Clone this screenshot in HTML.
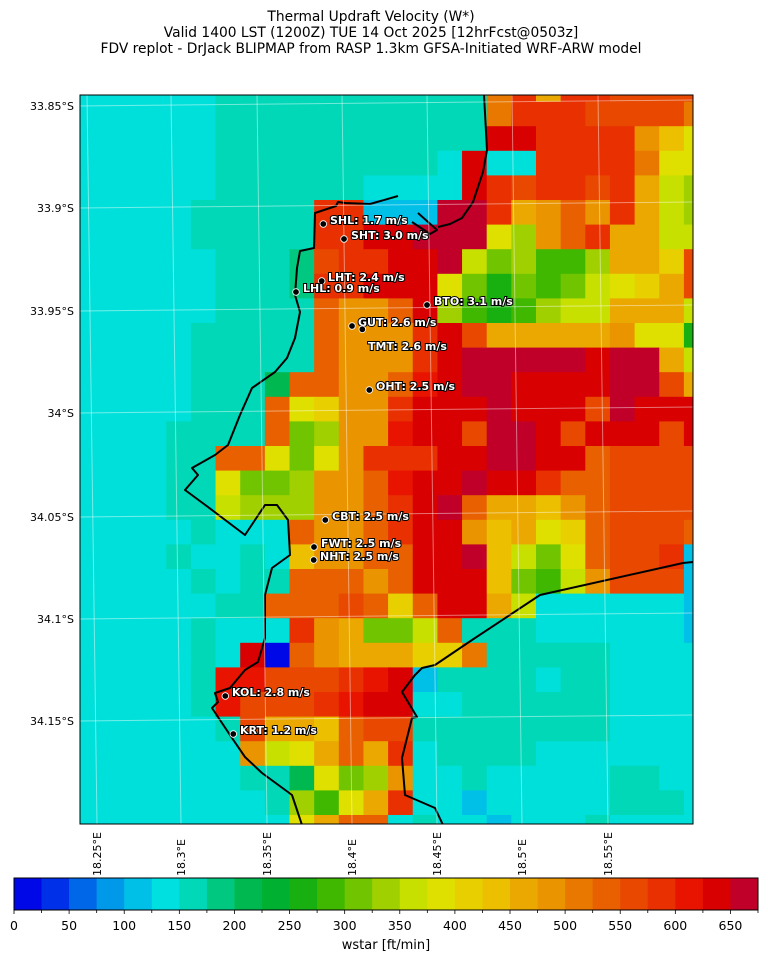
<!DOCTYPE html>
<html><head><meta charset="utf-8"><style>
body{margin:0;background:#fff;}
svg{display:block;font-family:"DejaVu Sans","Liberation Sans",sans-serif;}
</style></head><body>
<svg id="s" width="768" height="962" xmlns="http://www.w3.org/2000/svg">
<rect width="768" height="962" fill="#fff"/>
<text x="371" y="21" font-size="13.8" text-anchor="middle">Thermal Updraft Velocity (W*)</text>
<text x="371" y="37" font-size="13.8" text-anchor="middle">Valid 1400 LST (1200Z) TUE 14 Oct 2025 [12hrFcst@0503z]</text>
<text x="371" y="53" font-size="13.8" text-anchor="middle">FDV replot - DrJack BLIPMAP from RASP 1.3km GFSA-Initiated WRF-ARW model</text>
<defs><clipPath id="cp"><rect x="80" y="95" width="613" height="729"/></clipPath></defs>
<g id="grid" clip-path="url(#cp)"></g>
<g clip-path="url(#cp)" fill="none" stroke="#000" stroke-width="2" stroke-linejoin="round">
<polyline points="484,95 487,150 483,172 473,202 462,218 450,224 438,227"/>
<polyline points="418,213 437,230 430,234 412,222"/>
<polyline points="398,196 370,204 345,203 338,202 336,206 315,213 314,248 300,251 297,268 295,295 300,312 295,338 287,358 275,372 252,388 240,415 228,445 215,455 192,468 198,475 185,490 208,507 245,535 255,520 265,505 277,505 288,520 290,555 272,568 265,595 265,638 258,662 245,670 230,688 215,693 218,702 212,708 232,738 245,757 262,773 292,795 302,825"/>
<polyline points="443,825 435,808 405,795 402,758 412,718 417,717 402,692 415,675 422,668 435,665 472,640 540,595 683,563 693,562"/>
</g>
<g id="gl" stroke="#fff" stroke-opacity="0.45" stroke-width="1" clip-path="url(#cp)"></g>
<rect x="80" y="95" width="613" height="729" fill="none" stroke="#000" stroke-width="1"/>
<g id="lab" font-size="11" font-weight="bold"></g>
<g font-size="11" text-anchor="end">
<text x="74" y="110">33.85°S</text><text x="74" y="212">33.9°S</text><text x="74" y="315">33.95°S</text><text x="74" y="417">34°S</text><text x="74" y="521">34.05°S</text><text x="74" y="623">34.1°S</text><text x="74" y="725">34.15°S</text>
</g>
<g font-size="11" id="bl"></g>
<g id="cb"></g>
<text x="386" y="949" font-size="13" text-anchor="middle">wstar [ft/min]</text>
</svg>
<script>
var NS="http://www.w3.org/2000/svg";
function el(t,a,p){var e=document.createElementNS(NS,t);for(var k in a)e.setAttribute(k,a[k]);p.appendChild(e);return e;}
var col={a:"#0008e8",c:"#00c0e8",C:"#00e0da",T:"#00d8b8",e:"#00c880",g:"#00b850",G:"#18b010",L:"#40b800",M:"#70c400",N:"#a0d000",Y:"#c8e000",y:"#e0e000",o:"#e8d000",O:"#ecc000",p:"#eaa800",q:"#ea9400",r:"#e87800",s:"#e86000",t:"#e84800",u:"#e83000",v:"#e81400",w:"#d80000",x:"#c00028"};
var rows=[
"CCCCCCTTTTTTTTTTTrupuutttt",
"CCCCCCTTTTTTTTTTTruuuttttr",
"CCCCCCTTTTTTTTTTTwwuuuuqOy",
"CCCCCCTTTTTTTTTCwCCuuuuryy",
"CCCCCCTTTTTTCCCCwutuutupYN",
"CCCCCTTTTTuucccxxupqsqupYN",
"CCCCCTTTTTuuwwxxxyNqsuppYY",
"CCCCCCTTTetuuwwxYMNLLNppot",
"CCCCCCTTTeuuwwwyMGMLMYyopt",
"CCCCCCTTTTsqqswNLGLNYYpppY",
"CCCCCTTTTTsqqquwtpppppqyyG",
"CCCCCTTTTTsqqquwxxxxxwxxpY",
"CCCCCTTTgssqqsvwxxwwwwxxtp",
"CCCCCTTTsyoqquwwwxwwwtxwww",
"CCCCTTTTsMNqqvwwtxxwtwwwtw",
"CCCCTTssyMyquuuwwxxwwstttt",
"CCCCTTyMMNqqsvwwxwwusstttt",
"CCCCTTYNNNqqsuwxsppOqstttt",
"CCCCCTCCCsqqsuwwqOpyosttts",
"CCCCTCCTCOqqsswwxOYMysttuc",
"CCCCCTCTTsssqswwwOMLYqtttc",
"CCCCCCTTssstsoswwpYCCCCCCc",
"CCCCCTCCCuqpMMYsTTTCCCCCCc",
"CCCCCTCwasqpppoorTTTTTCCCC",
"CCCCCTvvtttuvwcTTTTCTTCCCC",
"CCCCCTvtttuvwwCCTTTTTTCCCC",
"CCCCCCTtppOsttTTTTTTTTCCCC",
"CCCCCCCqYypspuCTTTTCCCCCCC",
"CCCCCCCTTgyMNqCCTCCCCCTTCC",
"CCCCCCCCTNLypuCCcCCCCCTTTC",
"CCCCCCCCCypssCTCCcCCCTCCCC"];
var g=document.getElementById("grid");
for(var r=0;r<rows.length;r++){var s=rows[r];for(var c=0;c<26;c++){var ch=s.charAt(c)||"C";
el("rect",{x:(67.65+24.65*c).toFixed(2),y:(77+24.6*r).toFixed(2),width:"25.2",height:"25.2",fill:col[ch]||col.C},g);}}
var gl=document.getElementById("gl");
[106,208,311,413,517,619,721].forEach(function(y){el("line",{x1:80,y1:y,x2:693,y2:y-6},gl);});
var lons=[97,181,267,352,437,522,608],lab=["18.25°E","18.3°E","18.35°E","18.4°E","18.45°E","18.5°E","18.55°E"];
var bl=document.getElementById("bl");
lons.forEach(function(x,i){el("line",{x1:x-10,y1:95,x2:x,y2:824},gl);
var t=el("text",{x:0,y:0,transform:"translate("+(x+4)+",876) rotate(-90)"},bl);t.textContent=lab[i];});
var L=[[323.3,224,"SHL: 1.7 m/s",330,220],[344,239,"SHT: 3.0 m/s",351,235],[321.7,281,"LHT: 2.4 m/s",328,277],[296,292,"LHL: 0.9 m/s",303,288],[427,305,"BTO: 3.1 m/s",434,301],[352,326,"GUT: 2.6 m/s",358,322],[362.3,329.3,"",0,0],[0,0,"TMT: 2.6 m/s",368,346],[369.3,390,"OHT: 2.5 m/s",376,386],[325.3,520,"CBT: 2.5 m/s",332,516],[314,547,"FWT: 2.5 m/s",321,543],[313.7,560,"NHT: 2.5 m/s",320,556],[225.3,696,"KOL: 2.8 m/s",232,692],[233.3,734,"KRT: 1.2 m/s",240,730]];
var lg=document.getElementById("lab");
L.forEach(function(d){if(d[0])el("circle",{cx:d[0],cy:d[1],r:3.3,fill:"#000",stroke:"#fff","stroke-width":"0.8"},lg);
if(d[2]){var t=el("text",{x:d[3],y:d[4]+4,fill:"#fff",stroke:"#000","stroke-width":"2","paint-order":"stroke"},lg);t.textContent=d[2];}});
var cbc=["#0008e8","#0030e8","#0068e8","#0098e8","#00c0e8","#00e0e0","#00d8b8","#00c880","#00b850","#00b030","#18b010","#40b800","#70c400","#a0d000","#c8e000","#e0e000","#e8d000","#ecc000","#eaa800","#ea9400","#e87800","#e86000","#e84800","#e83000","#e81400","#d80000","#c00028"];
var cb=document.getElementById("cb"),w=744/27;
cbc.forEach(function(cc,i){el("rect",{x:(14+w*i).toFixed(2),y:878,width:(w+0.4).toFixed(2),height:32,fill:cc},cb);});
el("rect",{x:14,y:878,width:744,height:32,fill:"none",stroke:"#000","stroke-width":1},cb);
for(var i=0;i<=27;i++){var x=14+w*i;el("line",{x1:x,y1:910,x2:x,y2:(i%2==0?914:913),stroke:"#000","stroke-width":0.8},cb);
if(i%2==0&&i<27){var t=el("text",{x:x,y:930,"font-size":"12.5","text-anchor":"middle"},cb);t.textContent=String(i*25);}}
</script>
</body></html>
